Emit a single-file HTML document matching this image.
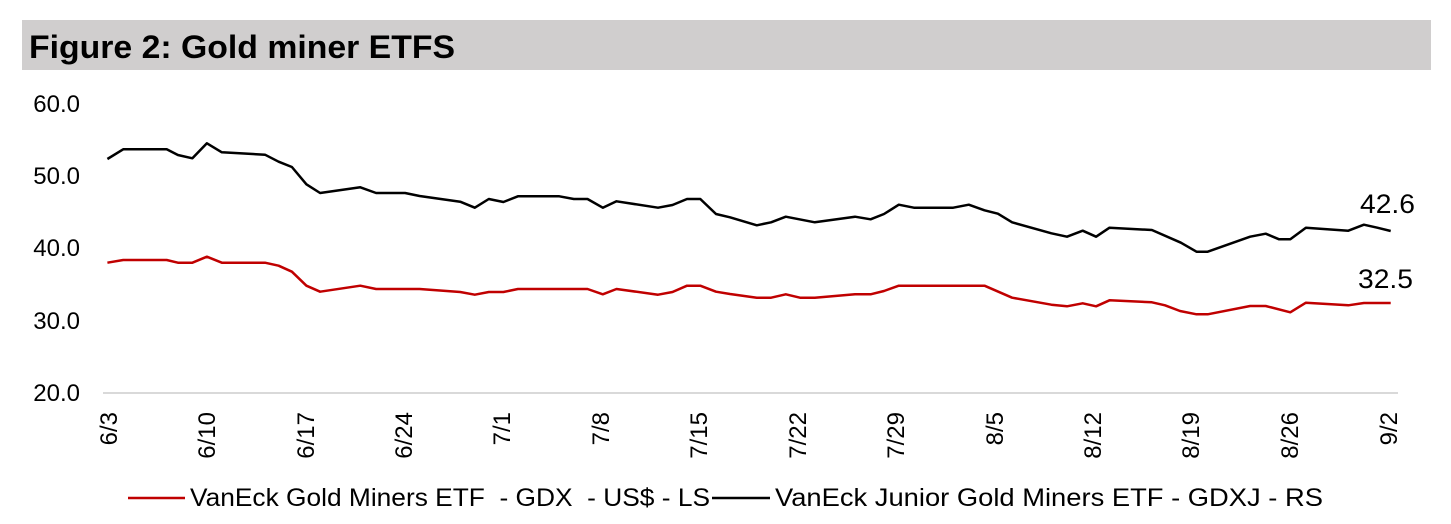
<!DOCTYPE html>
<html><head><meta charset="utf-8"><style>
body{margin:0;background:#fff;}
svg{display:block;font-family:"Liberation Sans",Arial,sans-serif;}
</style></head><body>
<svg width="1451" height="524" viewBox="0 0 1451 524" xmlns="http://www.w3.org/2000/svg">
<rect x="22" y="20" width="1409" height="50" fill="#d0cece"/>
<text x="29" y="58" font-size="32" font-weight="bold" fill="#000" textLength="426" lengthAdjust="spacingAndGlyphs">Figure 2: Gold miner ETFS</text>
<g font-size="24" fill="#000" text-anchor="end">
<text x="80" y="112">60.0</text>
<text x="80" y="184">50.0</text>
<text x="80" y="256">40.0</text>
<text x="80" y="329">30.0</text>
<text x="80" y="401">20.0</text>
</g>
<line x1="103" y1="393" x2="1398" y2="393" stroke="#d9d9d9" stroke-width="2"/>
<g font-size="24" fill="#000" text-anchor="end">
<text transform="translate(117,412) rotate(-90)">6/3</text>
<text transform="translate(215,412) rotate(-90)">6/10</text>
<text transform="translate(314,412) rotate(-90)">6/17</text>
<text transform="translate(412,412) rotate(-90)">6/24</text>
<text transform="translate(510,412) rotate(-90)">7/1</text>
<text transform="translate(609,412) rotate(-90)">7/8</text>
<text transform="translate(707,412) rotate(-90)">7/15</text>
<text transform="translate(806,412) rotate(-90)">7/22</text>
<text transform="translate(904,412) rotate(-90)">7/29</text>
<text transform="translate(1003,412) rotate(-90)">8/5</text>
<text transform="translate(1101,412) rotate(-90)">8/12</text>
<text transform="translate(1199,412) rotate(-90)">8/19</text>
<text transform="translate(1298,412) rotate(-90)">8/26</text>
<text transform="translate(1397,412) rotate(-90)">9/2</text>
</g>
<polyline fill="none" stroke="#000" stroke-width="2.5" stroke-linejoin="round" points="107.4,159 123.2,149.3 166.7,149.3 177.9,155 192.4,158.3 206.9,143.3 221.8,152.3 265,154.7 278.6,161.7 291.9,167 306.4,184.3 320.1,193 360.3,187.3 376.1,193 405.1,193 419.6,196 460.2,201.7 474.8,207.7 488.8,199 503.4,202 517.9,196.3 559.3,196.3 573.8,199 587.5,199 602.8,207.7 616.5,201.3 658,207.7 672.5,205 687,199 700.3,199 716,214 730,217.3 756.8,225.3 771.1,222.3 785.8,216.7 814.8,222.3 855,216.7 870.6,219.3 884,214 898.8,204.7 913.9,207.7 953.2,207.7 968.8,204.7 984.5,210.3 997.9,213.7 1012.1,222.3 1051.4,233.3 1067,236.7 1082.7,230.7 1096.1,236.7 1109.5,227.7 1151.9,230 1180.9,242.7 1196.5,251.7 1207.7,251.7 1250.1,236.7 1265.7,233.7 1279.1,239.3 1290.3,239.3 1305.9,227.7 1348.3,230.7 1363.9,224.7 1377.3,227.7 1390.7,231"/>
<polyline fill="none" stroke="#c00000" stroke-width="2.5" stroke-linejoin="round" points="107.4,262.7 123.2,260 166.7,260 177.9,262.7 192.4,262.7 206.9,256.7 221.8,262.7 265,262.7 278.6,265.7 291.9,271.7 306.4,285.7 320.1,291.7 360.3,285.7 376.1,289 419.6,289 460.2,292 474.8,294.7 488.8,292 503.4,292 517.9,289 587.5,289 602.8,294.3 616.5,289 658,294.7 672.5,292 687,285.7 700.3,285.7 716,291.7 730,294 756.8,297.7 771.1,297.7 785.8,294.3 800,297.7 814.8,297.7 855,294.3 870.6,294.3 884,291 898.8,285.7 984.5,285.7 1012.1,297.7 1051.4,304.7 1067,306.3 1082.7,303.3 1096.1,306.3 1109.5,300.3 1151.9,302.3 1165,305.3 1180,311 1196.5,314.3 1207.7,314.3 1250.1,306 1265.7,306 1290.3,312.3 1305.9,302.7 1348.3,305.3 1363.9,303 1390.7,303"/>
<text x="1360" y="213" font-size="27" fill="#000" textLength="55" lengthAdjust="spacingAndGlyphs">42.6</text>
<text x="1358" y="288" font-size="27" fill="#000" textLength="55" lengthAdjust="spacingAndGlyphs">32.5</text>
<line x1="128" y1="498" x2="185" y2="498" stroke="#c00000" stroke-width="2.5"/>
<text x="190" y="506" font-size="25" fill="#000" xml:space="preserve" textLength="520" lengthAdjust="spacingAndGlyphs">VanEck Gold Miners ETF  - GDX  - US$ - LS</text>
<line x1="712" y1="498" x2="770" y2="498" stroke="#000" stroke-width="2.5"/>
<text x="775" y="506" font-size="25" fill="#000" textLength="548" lengthAdjust="spacingAndGlyphs">VanEck Junior Gold Miners ETF - GDXJ - RS</text>
</svg>
</body></html>
